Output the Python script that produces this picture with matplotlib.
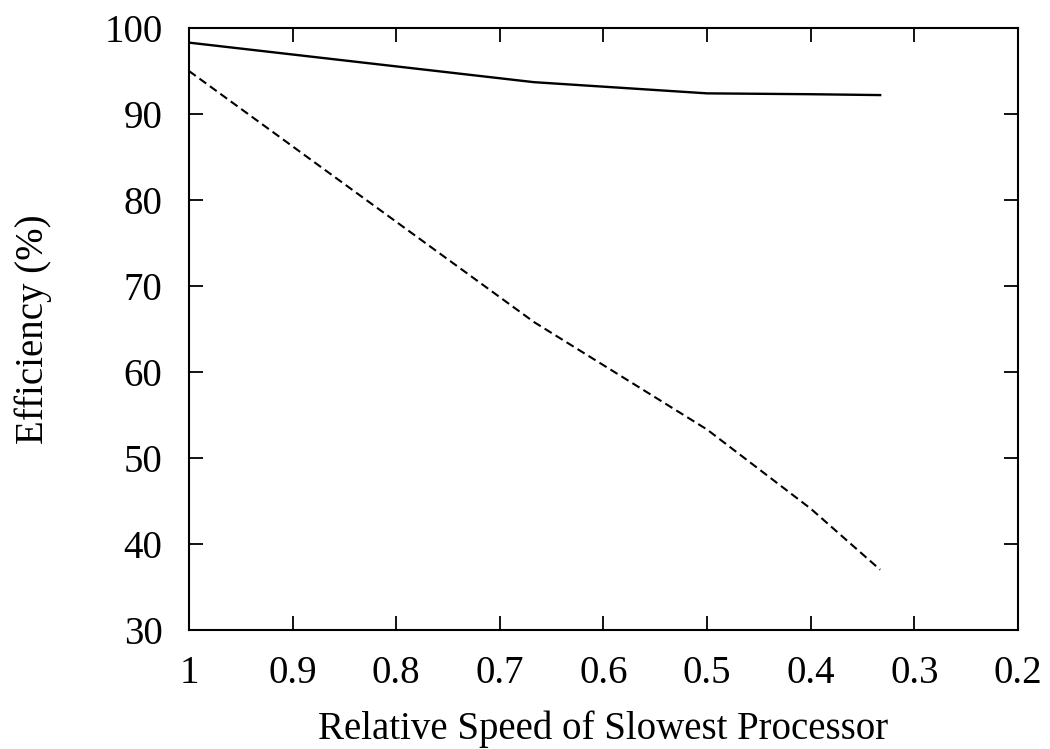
import matplotlib
matplotlib.use("Agg")
import matplotlib.pyplot as plt

# relative speed of the slowest processor
speed = [1.0, 0.667, 0.5, 0.4, 0.333]
# efficiency (%) for the two schemes
eff_solid = [98.3, 93.7, 92.4, 92.3, 92.2]
eff_dashed = [95.0, 65.8, 53.3, 44.1, 37.0]

xticks = [1, 0.9, 0.8, 0.7, 0.6, 0.5, 0.4, 0.3, 0.2]
xtick_labels = ["1", "0.9", "0.8", "0.7", "0.6", "0.5", "0.4", "0.3", "0.2"]
yticks = [30, 40, 50, 60, 70, 80, 90, 100]

plt.rcParams['font.family'] = ['Liberation Serif', 'DejaVu Serif']

fig = plt.figure(figsize=(10.5, 7.49), dpi=100)
ax = fig.add_axes([0.18, 0.159, 0.7895, 0.8036])

ax.plot(speed, eff_solid, color='black', lw=1.7, ls='-')
ax.plot(speed, eff_dashed, color='black', lw=1.5, ls=(0, (4, 2.2)))

ax.set_xlim(1, 0.2)
ax.set_ylim(30, 100)
ax.set_xticks(xticks)
ax.set_xticklabels(xtick_labels)
ax.set_yticks(yticks)

ax.tick_params(direction='in', length=10, width=1.3, labelsize=28,
               top=True, right=True)
ax.tick_params(axis='x', pad=18)
ax.tick_params(axis='y', pad=19)
for s in ax.spines.values():
    s.set_linewidth(1.5)

ax.set_xlabel("Relative Speed of Slowest Processor", fontsize=28, labelpad=13)
ax.set_ylabel("Efficiency (%)", fontsize=28, labelpad=38)

fig.savefig("out.png", dpi=100)
